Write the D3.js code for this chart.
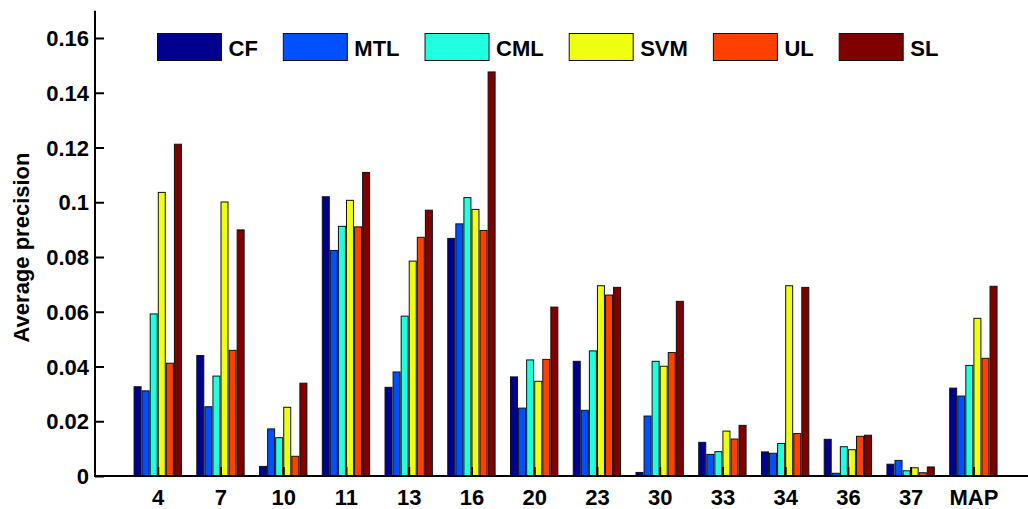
<!DOCTYPE html>
<html>
<head>
<meta charset="utf-8">
<script src="https://cdn.jsdelivr.net/npm/d3@7"></script>
<style>
  html, body { margin: 0; padding: 0; background: #fff; }
  svg { display: block; }
  text { font-family: "Liberation Sans", Arial, Helvetica, sans-serif; font-weight: bold; fill: #000; }
</style>
</head>
<body>
<svg id="chart" width="1028" height="509"></svg>
<script>
// Categories along the x axis
const categories = ["4", "7", "10", "11", "13", "16", "20", "23", "30", "33", "34", "36", "37", "MAP"];

// Methods compared in each group
const seriesNames = ["CF", "MTL", "CML", "SVM", "UL", "SL"];
const seriesColors = ["#00008f", "#0050ff", "#20ffdf", "#efff10", "#ff4000", "#800000"];

// Average precision per method, one value per category
const cfValues  = [0.0326, 0.0440, 0.0035, 0.1020, 0.0324, 0.0868, 0.0362, 0.0419, 0.0013, 0.0123, 0.0088, 0.0134, 0.0043, 0.0321];
const mtlValues = [0.0311, 0.0253, 0.0172, 0.0824, 0.0380, 0.0921, 0.0248, 0.0240, 0.0219, 0.0079, 0.0083, 0.0010, 0.0057, 0.0292];
const cmlValues = [0.0592, 0.0365, 0.0140, 0.0912, 0.0584, 0.1017, 0.0424, 0.0457, 0.0419, 0.0089, 0.0119, 0.0107, 0.0019, 0.0404];
const svmValues = [0.1036, 0.1001, 0.0251, 0.1007, 0.0785, 0.0974, 0.0346, 0.0695, 0.0401, 0.0164, 0.0695, 0.0096, 0.0030, 0.0576];
const ulValues  = [0.0412, 0.0459, 0.0072, 0.0910, 0.0872, 0.0897, 0.0426, 0.0661, 0.0451, 0.0135, 0.0155, 0.0145, 0.0012, 0.0430];
const slValues  = [0.1212, 0.0899, 0.0339, 0.1109, 0.0971, 0.1476, 0.0617, 0.0689, 0.0638, 0.0185, 0.0689, 0.0149, 0.0033, 0.0693];

const allSeries = [cfValues, mtlValues, cmlValues, svmValues, ulValues, slValues];

// Y axis ticks
const yTickValues = [0, 0.02, 0.04, 0.06, 0.08, 0.1, 0.12, 0.14, 0.16];
const yTickLabels = ["0", "0.02", "0.04", "0.06", "0.08", "0.1", "0.12", "0.14", "0.16"];
const yLabel = "Average precision";

const svg = d3.select("#chart");
const axisLeftPx = 95, baseY = 476;

// Group i sits at x = i + 1; the axis runs past the right edge
const x = d3.scaleLinear().domain([0, 15]).range([axisLeftPx, axisLeftPx + 15 * 62.74]);
const y = d3.scaleLinear().domain([0, 0.17]).range([baseY, baseY - 0.17 / 0.16 * 438]);

const barStep = 0.1286;          // spacing between bars inside a group (x units)
const barWidth = 0.1116;         // bar width (x units)
const nSeries = seriesNames.length;

// Bars
const groups = svg.append("g").attr("class", "bars");
allSeries.forEach((vals, j) => {
  groups.append("g")
    .selectAll("rect")
    .data(vals)
    .join("rect")
    .attr("x", (d, i) => x(i + 1 + (j - (nSeries - 1) / 2) * barStep - barWidth / 2))
    .attr("width", x(barWidth) - x(0))
    .attr("y", d => y(d))
    .attr("height", d => y(0) - y(d))
    .attr("fill", seriesColors[j])
    .attr("stroke", "#111")
    .attr("stroke-width", 1);
});

// Y axis with inward ticks
const yAxis = d3.axisLeft(y)
  .tickValues(yTickValues)
  .tickFormat((d, i) => yTickLabels[i])
  .tickSize(-9)
  .tickPadding(6);
const gy = svg.append("g").attr("transform", `translate(${axisLeftPx},0)`).call(yAxis);
gy.select(".domain").remove();
gy.selectAll(".tick line").attr("stroke", "#000").attr("stroke-width", 2);
gy.selectAll(".tick text").style("font-size", "22px").style("font-family", null).attr("dy", "0.35em");
gy.attr("font-family", null).attr("font-size", null);

// X axis with inward ticks at group centres
const xAxis = d3.axisBottom(x)
  .tickValues(categories.map((c, i) => i + 1))
  .tickFormat((d, i) => categories[i])
  .tickSize(-9)
  .tickPadding(13);
const gx = svg.append("g").attr("transform", `translate(0,${baseY})`).call(xAxis);
gx.select(".domain").remove();
gx.selectAll(".tick line").attr("stroke", "#000").attr("stroke-width", 2);
gx.selectAll(".tick text").style("font-size", "22px");
gx.attr("font-family", null).attr("font-size", null);

// Axis lines
svg.append("line")
  .attr("x1", axisLeftPx).attr("x2", axisLeftPx)
  .attr("y1", y.range()[1]).attr("y2", baseY + 1)
  .attr("stroke", "#000").attr("stroke-width", 2);
svg.append("line")
  .attr("x1", axisLeftPx - 1).attr("x2", x.range()[1])
  .attr("y1", baseY).attr("y2", baseY)
  .attr("stroke", "#000").attr("stroke-width", 2);

// Y axis title
svg.append("text")
  .attr("transform", `translate(28.5,247.5) rotate(-90)`)
  .attr("text-anchor", "middle")
  .style("font-size", "22px")
  .text(yLabel);

// Legend laid out in a single row
const legend = svg.append("g").attr("class", "legend");
let lx = 157.5;
const boxW = 64, boxH = 27, boxTop = 33.5, textGap = 7, itemGap = 25.5;
seriesNames.forEach((name, j) => {
  legend.append("rect")
    .attr("x", lx).attr("y", boxTop)
    .attr("width", boxW).attr("height", boxH)
    .attr("fill", seriesColors[j])
    .attr("stroke", "#111").attr("stroke-width", 1);
  const t = legend.append("text")
    .attr("x", lx + boxW + textGap)
    .attr("y", 56.3)
    .style("font-size", "22px")
    .text(name);
  lx += boxW + textGap + t.node().getComputedTextLength() + itemGap;
});
</script>
</body>
</html>
